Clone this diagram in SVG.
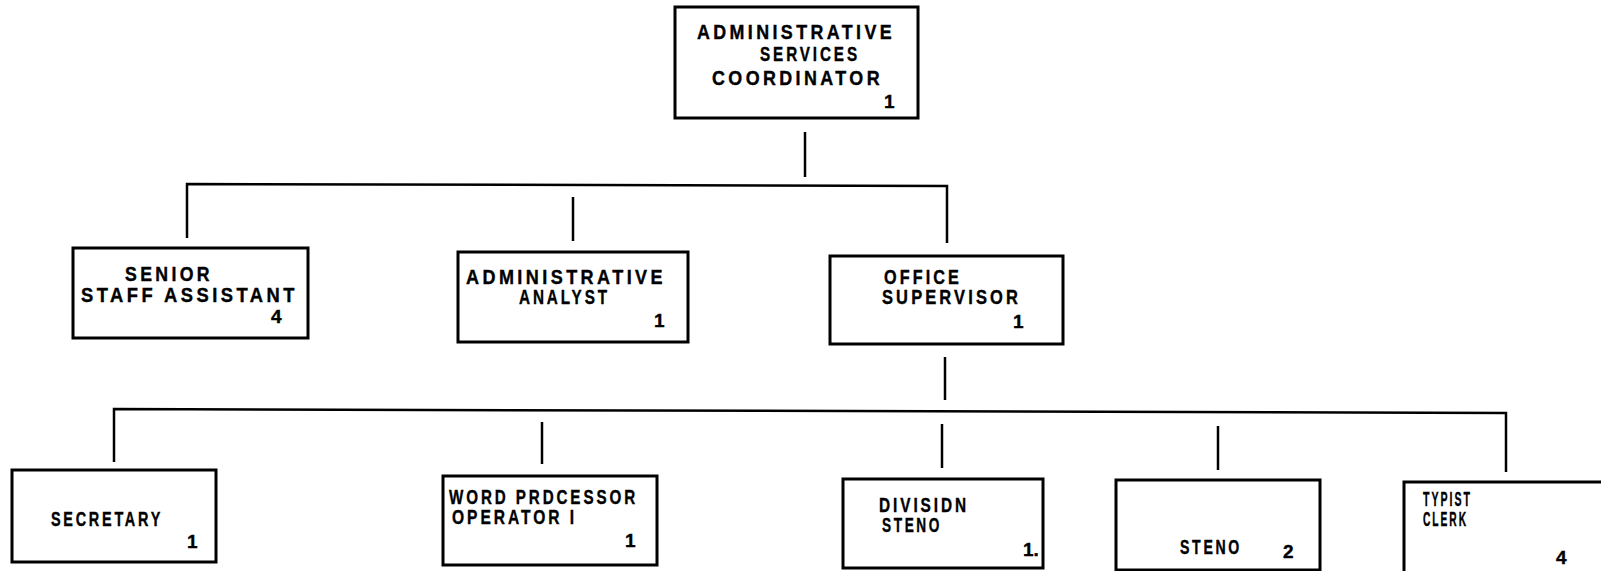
<svg xmlns="http://www.w3.org/2000/svg" width="1601" height="571" viewBox="0 0 1601 571">
<style>
.box{fill:#fff;stroke:#000;stroke-width:3}
.ln{fill:none;stroke:#000;stroke-width:2.5}
text{font-family:"Liberation Sans",Arial,sans-serif;font-weight:bold;font-size:21px;fill:#000;stroke:#000;stroke-width:0.4;letter-spacing:4px}
.n{letter-spacing:0;font-size:19px}
</style>
<rect width="1601" height="571" fill="#fff"/>
<g id="connectors">
<line class="ln" x1="805" y1="132" x2="805" y2="177"/>
<polyline class="ln" points="187,238 187,184 947,186 947,243"/>
<line class="ln" x1="573" y1="197" x2="573" y2="241"/>
<line class="ln" x1="945" y1="357" x2="945" y2="400"/>
<polyline class="ln" points="114,462 114,409 1506,413 1506,472"/>
<line class="ln" x1="542" y1="422" x2="542" y2="464"/>
<line class="ln" x1="942" y1="424" x2="942" y2="468"/>
<line class="ln" x1="1218" y1="426" x2="1218" y2="470"/>
</g>
<g id="n-coordinator">
<rect class="box" x="675" y="7" width="243" height="111"/>
<text x="697" y="39" textLength="198" lengthAdjust="spacingAndGlyphs">ADMINISTRATIVE</text>
<text x="760" y="61" textLength="100" lengthAdjust="spacingAndGlyphs">SERVICES</text>
<text x="712" y="85" textLength="171" lengthAdjust="spacingAndGlyphs">COORDINATOR</text>
<text class="n" x="884" y="108">1</text>
</g>
<g id="n-senior">
<rect class="box" x="73" y="248" width="235" height="90"/>
<text x="125" y="281" textLength="88" lengthAdjust="spacingAndGlyphs">SENIOR</text>
<text x="81" y="302" textLength="217" lengthAdjust="spacingAndGlyphs">STAFF ASSISTANT</text>
<text class="n" x="271" y="323">4</text>
</g>
<g id="n-analyst">
<rect class="box" x="458" y="252" width="230" height="90"/>
<text x="466" y="284" textLength="200" lengthAdjust="spacingAndGlyphs">ADMINISTRATIVE</text>
<text x="519" y="304" textLength="91" lengthAdjust="spacingAndGlyphs">ANALYST</text>
<text class="n" x="654" y="327">1</text>
</g>
<g id="n-office">
<rect class="box" x="830" y="256" width="233" height="88"/>
<text x="884" y="284" textLength="78" lengthAdjust="spacingAndGlyphs">OFFICE</text>
<text x="882" y="304" textLength="139" lengthAdjust="spacingAndGlyphs">SUPERVISOR</text>
<text class="n" x="1013" y="328">1</text>
</g>
<g id="n-secretary">
<rect class="box" x="12" y="470" width="204" height="92"/>
<text x="51" y="526" textLength="112" lengthAdjust="spacingAndGlyphs">SECRETARY</text>
<text class="n" x="187" y="548">1</text>
</g>
<g id="n-wordproc">
<rect class="box" x="443" y="476" width="214" height="89"/>
<text x="449" y="504" textLength="189" lengthAdjust="spacingAndGlyphs">WORD PRDCESSOR</text>
<text x="452" y="524" textLength="125" lengthAdjust="spacingAndGlyphs">OPERATOR I</text>
<text class="n" x="625" y="547">1</text>
</g>
<g id="n-division">
<rect class="box" x="843" y="479" width="200" height="89"/>
<text x="879" y="512" textLength="90" lengthAdjust="spacingAndGlyphs">DIVISIDN</text>
<text x="882" y="532" textLength="60" lengthAdjust="spacingAndGlyphs">STENO</text>
<text class="n" x="1023" y="556">1.</text>
</g>
<g id="n-steno">
<rect class="box" x="1116" y="480" width="204" height="90"/>
<text x="1180" y="554" textLength="62" lengthAdjust="spacingAndGlyphs">STENO</text>
<text class="n" x="1283" y="558">2</text>
</g>
<g id="n-typist">
<rect class="box" x="1404" y="482" width="220" height="110"/>
<text x="1423" y="506" textLength="49" lengthAdjust="spacingAndGlyphs">TYPIST</text>
<text x="1423" y="526" textLength="45" lengthAdjust="spacingAndGlyphs">CLERK</text>
<text class="n" x="1556" y="564">4</text>
</g>
</svg>
